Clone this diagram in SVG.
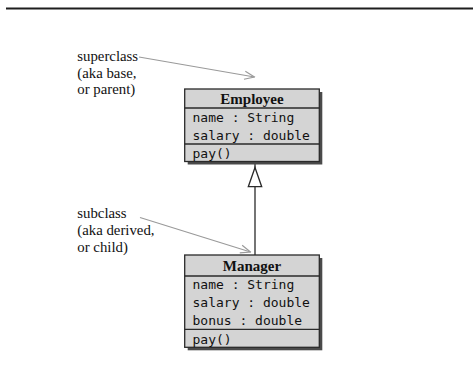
<svg xmlns="http://www.w3.org/2000/svg" width="473" height="385" viewBox="0 0 473 385">
<defs>
<style>
.shadow{fill:#4a4a4a}
.box{fill:#d4d4d4;stroke:#2a2a2a;stroke-width:1.3}
.div{stroke:#2a2a2a;stroke-width:1.3}
.hdr{font-family:"Liberation Serif","Times New Roman",serif;font-weight:bold;font-size:15px;fill:#111;text-anchor:middle}
.mono{font-family:"DejaVu Sans Mono","Liberation Mono",monospace;font-size:13px;fill:#111}
.lbl{font-family:"Liberation Serif","Times New Roman",serif;font-size:14.8px;fill:#111}
.note{stroke:#9a9a9a;stroke-width:1.2;fill:none}
.gen{stroke:#2a2a2a;stroke-width:1.3;fill:none}
</style>
<marker id="open" viewBox="0 0 12 10" refX="11" refY="5" markerWidth="12" markerHeight="10" markerUnits="userSpaceOnUse" orient="auto">
<path d="M1,1 L11,5 L1,9" fill="none" stroke="#9a9a9a" stroke-width="1.2"/>
</marker>
</defs>
<rect x="6" y="7.5" width="467" height="2" fill="#1e1e1e"/>
<g id="connectors">
<line class="note" x1="139" y1="57" x2="254.5" y2="77" marker-end="url(#open)"/>
<line class="note" x1="140" y1="217.5" x2="250.5" y2="252" marker-end="url(#open)"/>
<line class="gen" x1="255" y1="162" x2="255" y2="255"/>
<polygon points="255,167.5 248.3,186.7 261.7,186.7" fill="#fff" stroke="#2a2a2a" stroke-width="1.3"/>
</g>
<g id="label-superclass">
<text class="lbl" x="77.3" y="61">superclass</text>
<text class="lbl" x="77.3" y="77.5">(aka base,</text>
<text class="lbl" x="77.3" y="94">or parent)</text>
</g>
<g id="label-subclass">
<text class="lbl" x="77.3" y="218">subclass</text>
<text class="lbl" x="77.3" y="235">(aka derived,</text>
<text class="lbl" x="77.3" y="252">or child)</text>
</g>
<g id="employee">
<rect class="shadow" x="187.7" y="92" width="134.6" height="72.5"/>
<rect class="box" x="184.7" y="89" width="134.6" height="72.5"/>
<line class="div" x1="184.7" y1="108" x2="319.3" y2="108"/>
<line class="div" x1="184.7" y1="144" x2="319.3" y2="144"/>
<text class="hdr" x="252" y="103.5">Employee</text>
<text class="mono" x="192.5" y="122">name : String</text>
<text class="mono" x="192.5" y="140">salary : double</text>
<text class="mono" x="192.5" y="158">pay()</text>
</g>
<g id="manager">
<rect class="shadow" x="187.7" y="258" width="134.6" height="92.3"/>
<rect class="box" x="184.7" y="255" width="134.6" height="92.3"/>
<line class="div" x1="184.7" y1="276" x2="319.3" y2="276"/>
<line class="div" x1="184.7" y1="329.3" x2="319.3" y2="329.3"/>
<text class="hdr" x="252" y="270.5">Manager</text>
<text class="mono" x="192.5" y="289">name : String</text>
<text class="mono" x="192.5" y="307">salary : double</text>
<text class="mono" x="192.5" y="325">bonus : double</text>
<text class="mono" x="192.5" y="343.5">pay()</text>
</g>
</svg>
